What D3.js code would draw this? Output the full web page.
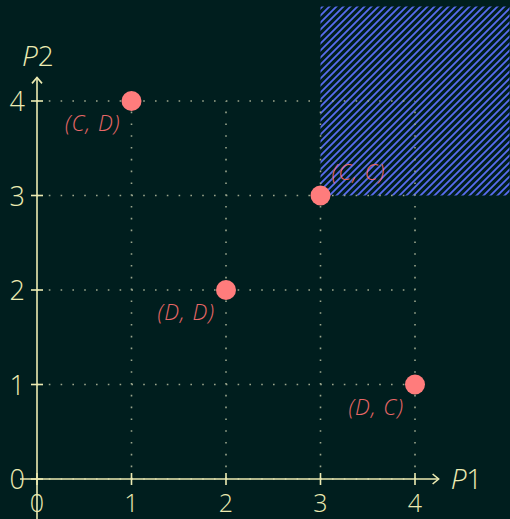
<!DOCTYPE html>
<html>
<head>
<meta charset="utf-8">
<script src="https://cdn.jsdelivr.net/npm/d3@7"></script>
<style>
  html, body { margin: 0; padding: 0; background: #001e1e; }
  svg { display: block; }
</style>
</head>
<body>
<svg id="chart"></svg>
<script>
// payoff pairs (P1, P2) and their labels
const p1Values = [1, 3, 2, 4];
const p2Values = [4, 3, 2, 1];
const outcomeLabels = ["(C, D)", "(C, C)", "(D, D)", "(D, C)"];
const labelSide = ["below-left", "above-right", "below-left", "below-left"];
const tickValues = [0, 1, 2, 3, 4];
const hatchRegion = { x: [3, 5], y: [3, 5] };

const width = 510, height = 519;
const fg = "#ecebb2";
const grid = "#9aa58c";

const svg = d3.select("#chart")
  .attr("width", width)
  .attr("height", height);

svg.append("rect").attr("width", width).attr("height", height).attr("fill", "#001e1e");

const x = d3.scaleLinear().domain([0, 5]).range([37, 509.5]);
const y = d3.scaleLinear().domain([0, 5]).range([479, 6.5]);

// hatch pattern (north-east lines, 7px period)
const defs = svg.append("defs");
const pat = defs.append("pattern")
  .attr("id", "hatch")
  .attr("patternUnits", "userSpaceOnUse")
  .attr("width", 7).attr("height", 7);
pat.append("path")
  .attr("d", "M0,7 L7,0 M-1,1 L1,-1 M6,8 L8,6")
  .attr("stroke", "#586cf0").attr("stroke-width", 1.8);

svg.append("rect")
  .attr("x", x(hatchRegion.x[0]))
  .attr("y", y(hatchRegion.y[1]))
  .attr("width", x(hatchRegion.x[1]) - x(hatchRegion.x[0]))
  .attr("height", y(hatchRegion.y[0]) - y(hatchRegion.y[1]))
  .attr("fill", "url(#hatch)");

// dotted grid
const gridTicks = tickValues.filter(d => d > 0);
svg.append("g").selectAll("line.v")
  .data(gridTicks).enter().append("line")
  .attr("x1", d => x(d)).attr("x2", d => x(d))
  .attr("y1", y(0)).attr("y2", y(4))
  .attr("stroke", grid).attr("stroke-width", 1.6)
  .attr("stroke-dasharray", "1.6 10.2").attr("stroke-linecap", "butt");
svg.append("g").selectAll("line.h")
  .data(tickValues).enter().append("line")
  .attr("y1", d => y(d)).attr("y2", d => y(d))
  .attr("x1", x(0)).attr("x2", x(4))
  .attr("stroke", grid).attr("stroke-width", 1.6)
  .attr("stroke-dasharray", "1.6 10.2");

// axes
const axisG = svg.append("g").attr("stroke", fg).attr("stroke-width", 1.6).attr("fill", "none");
axisG.append("line").attr("x1", x(-0.18)).attr("x2", x(4.25)).attr("y1", y(0)).attr("y2", y(0));
axisG.append("line").attr("x1", x(0)).attr("x2", x(0)).attr("y1", height).attr("y2", y(4.25));
axisG.append("path").attr("d", `M${x(4.25) - 6},${y(0) - 5} L${x(4.25)},${y(0)} L${x(4.25) - 6},${y(0) + 5}`);
axisG.append("path").attr("d", `M${x(0) - 5},${y(4.25) + 6} L${x(0)},${y(4.25)} L${x(0) + 5},${y(4.25) + 6}`);

axisG.selectAll("line.xt").data(tickValues).enter().append("line")
  .attr("x1", d => x(d)).attr("x2", d => x(d))
  .attr("y1", y(0) - 6).attr("y2", y(0) + 6);
axisG.selectAll("line.yt").data(tickValues).enter().append("line")
  .attr("y1", d => y(d)).attr("y2", d => y(d))
  .attr("x1", x(0) - 6).attr("x2", x(0) + 6);

const tickFont = "'Open Sans', 'DejaVu Sans', sans-serif";
svg.append("g").selectAll("text")
  .data(tickValues).enter().append("text")
  .attr("x", d => x(d)).attr("y", y(0) + 33)
  .attr("text-anchor", "middle")
  .attr("fill", fg).attr("font-family", tickFont).attr("font-weight", 300)
  .attr("font-size", 25)
  .text(d => d);
svg.append("g").selectAll("text")
  .data(tickValues).enter().append("text")
  .attr("x", x(0) - 12).attr("y", d => y(d) + 10)
  .attr("text-anchor", "end")
  .attr("fill", fg).attr("font-family", tickFont).attr("font-weight", 300)
  .attr("font-size", 27)
  .text(d => d);

// axis titles
svg.append("text")
  .attr("x", x(4.25) + 12).attr("y", y(0) + 10)
  .attr("fill", fg).attr("font-family", tickFont).attr("font-weight", 300)
  .attr("font-size", 28)
  .html('<tspan font-style="italic">P</tspan>1');
svg.append("text")
  .attr("x", 22).attr("y", 66)
  .attr("fill", fg).attr("font-family", tickFont).attr("font-weight", 300)
  .attr("font-size", 28)
  .html('<tspan font-style="italic">P</tspan>2');

// outcome points
const pts = p1Values.map((v, i) => ({ p1: v, p2: p2Values[i], label: outcomeLabels[i], side: labelSide[i] }));

svg.append("g").selectAll("circle")
  .data(pts).enter().append("circle")
  .attr("cx", d => x(d.p1)).attr("cy", d => y(d.p2))
  .attr("r", 10)
  .attr("fill", "#ff7c7c");

svg.append("g").selectAll("text")
  .data(pts).enter().append("text")
  .attr("x", d => x(d.p1) + (d.side === "above-right" ? 11 : -11))
  .attr("y", d => y(d.p2) + (d.side === "above-right" ? -16 : 30))
  .attr("text-anchor", d => d.side === "above-right" ? "start" : "end")
  .attr("fill", "#e86868")
  .attr("font-family", tickFont).attr("font-weight", 300)
  .attr("font-size", 22).attr("font-style", "italic")
  .attr("letter-spacing", 1)
  .text(d => d.label);
</script>
</body>
</html>
